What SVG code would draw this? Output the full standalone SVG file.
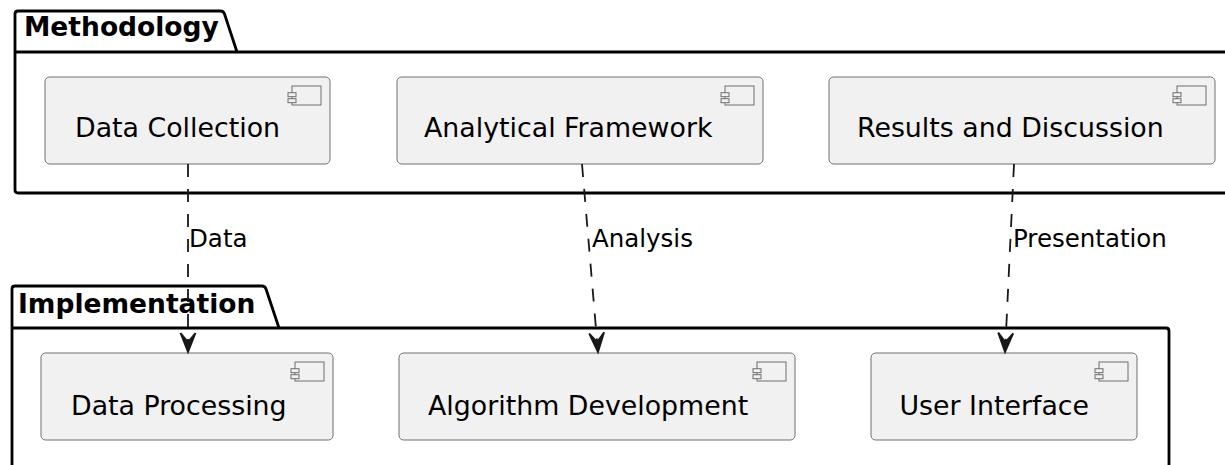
<svg xmlns="http://www.w3.org/2000/svg" width="1225" height="465" viewBox="0 0 1225 465">
  <style>
    .pkg { fill: none; stroke: #000000; stroke-width: 2.8; stroke-linejoin: round; }
    .pkg-title { font-family: "DejaVu Sans", sans-serif; font-weight: bold; font-size: 26.5px; fill: #000000; }
    .comp { fill: #F1F1F1; stroke: #6E6E6E; stroke-width: 1; }
    .comp-label { font-family: "DejaVu Sans", sans-serif; font-size: 26.8px; fill: #000000; }
    .icon rect { fill: #F1F1F1; stroke: #6E6E6E; stroke-width: 1; }
    .link { fill: none; stroke: #181818; stroke-width: 1.8; stroke-dasharray: 13 12; }
    .link-label { font-family: "DejaVu Sans", sans-serif; font-size: 24.5px; fill: #000000; }
    .head { fill: #181818; stroke: #181818; stroke-width: 1.8; stroke-linejoin: miter; }
  </style>
  <defs>
    <!-- component glyph, anchored at the box's top-right corner -->
    <g id="compIcon" class="icon">
      <rect x="-38" y="9" width="29" height="19"/>
      <rect x="-42" y="15.7" width="8" height="4"/>
      <rect x="-42" y="21.7" width="8" height="4"/>
    </g>
  </defs>

  <rect width="1225" height="465" fill="#FFFFFF"/>

  <!-- package: Methodology -->
  <g id="pkg-methodology">
    <path class="pkg" d="M 237 52 L 224.5 14 Q 223.5 11 220.5 11 H 18 Q 15 11 15 14 V 190 Q 15 193 18 193 H 1240"/>
    <path class="pkg" d="M 15 52 H 1240"/>
    <text class="pkg-title" x="24" y="36">Methodology</text>
  </g>

  <!-- package: Implementation -->
  <g id="pkg-implementation">
    <path class="pkg" d="M 279 328 L 266 289 Q 265 286 262 286 H 15 Q 12 286 12 289 V 470"/>
    <path class="pkg" d="M 12 328 H 1166 Q 1169 328 1169 331 V 470"/>
    <text class="pkg-title" x="18" y="313">Implementation</text>
  </g>

  <!-- components -->
  <g id="data-collection">
    <rect class="comp" x="45" y="77" width="285" height="87" rx="4.5"/>
    <use href="#compIcon" x="330" y="77"/>
    <text class="comp-label" x="75" y="137">Data Collection</text>
  </g>
  <g id="analytical-framework">
    <rect class="comp" x="397" y="77" width="366" height="87" rx="4.5"/>
    <use href="#compIcon" x="763" y="77"/>
    <text class="comp-label" x="424" y="137">Analytical Framework</text>
  </g>
  <g id="results-discussion">
    <rect class="comp" x="829" y="77" width="386" height="87" rx="4.5"/>
    <use href="#compIcon" x="1215" y="77"/>
    <text class="comp-label" x="857" y="137">Results and Discussion</text>
  </g>
  <g id="data-processing">
    <rect class="comp" x="41" y="353" width="292" height="87" rx="4.5"/>
    <use href="#compIcon" x="333" y="353"/>
    <text class="comp-label" x="71" y="414.5">Data Processing</text>
  </g>
  <g id="algorithm-development">
    <rect class="comp" x="399" y="353" width="396" height="87" rx="4.5"/>
    <use href="#compIcon" x="795" y="353"/>
    <text class="comp-label" x="428" y="414.5">Algorithm Development</text>
  </g>
  <g id="user-interface">
    <rect class="comp" x="871" y="353" width="266" height="87" rx="4.5"/>
    <use href="#compIcon" x="1137" y="353"/>
    <text class="comp-label" x="899.5" y="414.5">User Interface</text>
  </g>

  <!-- connectors -->
  <g id="connectors">
    <path class="link" d="M 188 164 L 188 350"/>
    <polygon class="head" points="188,352 180.5,333 188,342 195.5,333"/>
    <text class="link-label" x="189" y="247">Data</text>

    <path class="link" d="M 582 164 L 597.8 350"/>
    <polygon class="head" points="598,352 589.2,333.5 597.2,342 604.1,332.2"/>
    <text class="link-label" x="592" y="247">Analysis</text>

    <path class="link" d="M 1014 164 L 1005.2 350"/>
    <polygon class="head" points="1005,352 998.2,332.6 1005.4,342 1013.2,333.3"/>
    <text class="link-label" x="1013" y="247">Presentation</text>
  </g>
</svg>
